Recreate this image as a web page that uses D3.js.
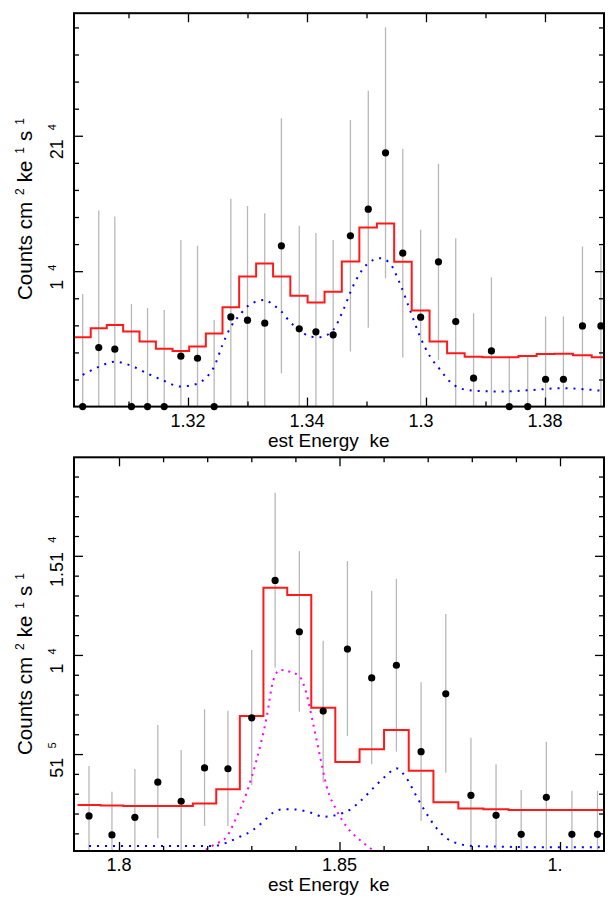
<!DOCTYPE html>
<html><head><meta charset="utf-8">
<script src="https://cdn.jsdelivr.net/npm/d3@7/dist/d3.min.js"></script>
<style>
body{margin:0;background:#fff}
svg{display:block;font-family:"Liberation Sans",Arial,Helvetica,sans-serif}
</style>
</head><body>
<svg id="c" width="613" height="897"></svg>
<script>
// ---------------- DATA (flux values in units of 1e-4 counts cm^-2 keV^-1 s^-1) ----------------
// Top panel
const topEnergy = [1.3023,1.3050,1.3077,1.3105,1.3132,1.3160,1.3188,1.3216,1.3244,1.3272,1.3300,1.3329,1.3357,1.3387,1.3415,1.3444,1.3473,1.3503,1.3532,1.3561,1.3591,1.3621,1.3650,1.3680,1.3710,1.3740,1.3771,1.3801,1.3831,1.3863,1.3894];
const topFlux   = [0,0.436,0.424,0,0,0,0.372,0.357,0,0.662,0.638,0.616,1.187,0.574,0.552,0.530,1.261,1.458,1.874,1.133,0.660,1.069,0.628,0.210,0.411,0,0,0.202,0.202,0.596,0.596];
const topErrLo  = [0,0,0,0,0,0,0,0,0,0,0,0,0.247,0,0,0,0.406,0.583,0.948,0.362,0,0.345,0,0,0,0,0,0,0,0,0];
const topErrHi  = [0.832,1.448,1.403,0.758,0.729,0.714,1.231,1.187,0.640,1.534,1.482,1.428,2.130,1.335,1.281,1.231,2.117,2.332,2.802,1.903,1.305,1.793,1.244,0.690,0.956,0.374,0.374,0.665,0.665,1.182,1.182];
const topModel  = [0.513,0.579,0.603,0.554,0.480,0.428,0.411,0.443,0.539,0.734,0.960,1.056,0.960,0.818,0.768,0.849,1.071,1.322,1.352,1.069,0.709,0.480,0.394,0.369,0.365,0.365,0.374,0.389,0.391,0.380,0.365];
const topCompE  = [1.3023,1.3050,1.3077,1.3105,1.3133,1.3160,1.3187,1.3215,1.3230,1.3244,1.3258,1.3271,1.3287,1.3301,1.3314,1.3329,1.3343,1.3357,1.3371,1.3388,1.3405,1.3422,1.3444,1.3461,1.3477,1.3500,1.3523,1.3539,1.3556,1.3573,1.3590,1.3607,1.3624,1.3640,1.3657,1.3679,1.3724,1.3780,1.3830,1.3864,1.3892];
const topCompV  = [0.234,0.293,0.332,0.301,0.242,0.190,0.148,0.168,0.212,0.295,0.456,0.581,0.677,0.744,0.775,0.788,0.751,0.702,0.628,0.566,0.517,0.513,0.566,0.714,0.886,1.047,1.096,1.059,0.911,0.714,0.517,0.369,0.271,0.185,0.136,0.118,0.111,0.123,0.136,0.129,0.118];
const topXMajor = [1.32,1.34,1.36,1.38];
const topXLabels = ["1.32","1.34","1.3","1.38"];
const topXMinor = [1.31,1.33,1.35,1.37];
const topYMajor = [1,2];
const topYLabelBase = ["1","21"];
const topYLabelSup  = ["4","4"];
const topYMinor = [0.2,0.4,0.6,0.8,1.2,1.4,1.6,1.8,2.2,2.4,2.6,2.8];

// Bottom panel
const botEnergy = [1.7932,1.7984,1.8036,1.8088,1.8141,1.8194,1.8247,1.8301,1.8354,1.8409,1.8463,1.8518,1.8573,1.8629,1.8685,1.8741,1.8798,1.8855,1.8912,1.8969,1.9027,1.9085];
const botFlux   = [0.188,0.092,0.181,0.358,0.262,0.430,0.426,0.683,1.376,1.117,0.717,1.030,0.884,0.948,0.512,0.804,0.292,0.191,0.095,0.282,0.095,0.095];
const botErrLo  = [0,0,0,0.075,0,0.137,0.137,0.344,0.937,0.714,0.356,0.591,0.448,0.512,0.164,0.406,0,0,0,0,0,0];
const botErrHi  = [0.440,0.310,0.425,0.647,0.520,0.726,0.719,1.025,1.818,1.524,1.072,1.474,1.324,1.384,0.862,1.206,0.582,0.448,0.319,0.562,0.315,0.315];
const botModel  = [0.243,0.240,0.238,0.238,0.238,0.250,0.322,0.692,1.339,1.302,0.734,0.460,0.524,0.621,0.416,0.257,0.226,0.221,0.218,0.218,0.218,0.218];
const botCompE  = [1.7932,1.8070,1.8213,1.8244,1.8274,1.8304,1.8327,1.8349,1.8372,1.8395,1.8418,1.8440,1.8463,1.8493,1.8523,1.8546,1.8576,1.8607,1.8629,1.8652,1.8675,1.8697,1.8720,1.8743,1.8773,1.8803,1.8864,1.8939,1.9015,1.9090];
const botCompV  = [0.036,0.036,0.036,0.053,0.083,0.117,0.159,0.204,0.221,0.221,0.214,0.201,0.184,0.193,0.218,0.260,0.327,0.394,0.428,0.378,0.285,0.201,0.126,0.075,0.046,0.036,0.033,0.030,0.030,0.030];
const botLineE  = [1.8170,1.8214,1.8244,1.8267,1.8289,1.8312,1.8335,1.8350,1.8365,1.8388,1.8410,1.8425,1.8440,1.8456,1.8471,1.8493,1.8516,1.8546,1.8576,1.8603];
const botLineV  = [-0.020,0.041,0.083,0.184,0.302,0.470,0.688,0.873,0.924,0.915,0.890,0.806,0.655,0.487,0.335,0.218,0.134,0.067,0.016,-0.014];
const botXMajor = [1.80,1.85,1.90];
const botXLabels = ["1.8","1.85","1."];
const botXMinor = [1.81,1.82,1.83,1.84,1.86,1.87,1.88,1.89];
const botYMajor = [0.5,1.0,1.5];
const botYLabelBase = ["51","1","1.51"];
const botYLabelSup  = ["5","4","4"];
const botYMinor = [0.1,0.2,0.3,0.4,0.6,0.7,0.8,0.9,1.1,1.2,1.3,1.4,1.6,1.7,1.8,1.9];

const xTitle = "est Energy  ke";

// ---------------- DRAWING ----------------
const svg = d3.select("#c");
const FS = 18;

function drawPanel(p) {
  const x = d3.scaleLinear().domain(p.xDomain).range([p.left, p.right]);
  const y = d3.scaleLinear().domain(p.yDomain).range([p.bottom, p.top]);
  const g = svg.append("g");
  svg.append("clipPath").attr("id", p.id).append("rect")
    .attr("x", p.left).attr("y", p.top).attr("width", p.right - p.left).attr("height", p.bottom - p.top);
  const plot = g.append("g").attr("clip-path", `url(#${p.id})`);

  // points (under the error bars)
  g.append("g").selectAll("circle").data(p.energy).join("circle")
    .attr("cx", d => x(d)).attr("cy", (d, i) => y(p.flux[i])).attr("r", 3.6).attr("fill", "#000");
  // error bars
  plot.append("g").selectAll("line").data(p.energy).join("line")
    .attr("x1", d => x(d)).attr("x2", d => x(d))
    .attr("y1", (d, i) => y(p.lo[i])).attr("y2", (d, i) => y(p.hi[i]))
    .attr("stroke", "#b8b8b8").attr("stroke-width", 1.3);

  // component curves
  (p.comps || []).forEach(c => {
    const pts = c.e.map((e, i) => [e, c.v[i]]);
    plot.append("path").datum(pts)
      .attr("d", d3.line().x(d => x(d[0])).y(d => y(d[1])).curve(d3.curveMonotoneX))
      .attr("fill", "none").attr("stroke", c.color).attr("stroke-width", 2)
      .attr("stroke-dasharray", c.dash);
  });

  // model step histogram (bin edges at midpoints between channels)
  const e = p.energy, n = e.length;
  const edges = [e[0] - (e[1] - e[0]) / 2];
  for (let i = 0; i < n - 1; i++) edges.push((e[i] + e[i + 1]) / 2);
  edges.push(e[n - 1] + (e[n - 1] - e[n - 2]) / 2);
  const stepPts = [];
  p.model.forEach((m, i) => { stepPts.push([edges[i], m]); stepPts.push([edges[i + 1], m]); });
  plot.append("path").datum(stepPts)
    .attr("d", d3.line().x(d => x(d[0])).y(d => y(d[1])))
    .attr("fill", "none").attr("stroke", "#ff1a1a").attr("stroke-width", 2);

  // axes ticks (inward)
  const tickStyle = s => { s.select(".domain").remove(); s.selectAll("line").attr("stroke-width", 1.3); s.selectAll("text").remove(); };
  [[p.xMinor, 5], [p.xMajor, 9]].forEach(([vals, len]) => {
    g.append("g").attr("transform", `translate(0,${p.bottom})`).call(d3.axisBottom(x).tickValues(vals).tickSize(-len)).call(tickStyle);
    g.append("g").attr("transform", `translate(0,${p.top})`).call(d3.axisTop(x).tickValues(vals).tickSize(-len)).call(tickStyle);
  });
  [[p.yMinor, 5], [p.yMajor, 9]].forEach(([vals, len]) => {
    g.append("g").attr("transform", `translate(${p.left},0)`).call(d3.axisLeft(y).tickValues(vals).tickSize(-len)).call(tickStyle);
    g.append("g").attr("transform", `translate(${p.right},0)`).call(d3.axisRight(y).tickValues(vals).tickSize(-len)).call(tickStyle);
  });

  // frame
  g.append("rect").attr("x", p.left).attr("y", p.top).attr("width", p.right - p.left).attr("height", p.bottom - p.top)
    .attr("fill", "none").attr("stroke", "#000").attr("stroke-width", 2);

  // x tick labels
  g.append("g").selectAll("text").data(p.xMajor).join("text")
    .attr("x", (d, i) => x(d) + p.xLabelShift[i] * FS).attr("y", p.bottom + 20)
    .attr("font-size", FS).attr("text-anchor", "start").text((d, i) => p.xLabels[i]);
  // x title
  g.append("text").attr("x", 268).attr("y", p.bottom + 40).attr("font-size", 19)
    .attr("xml:space", "preserve").style("white-space", "pre").text(xTitle);

  // y tick labels
  p.yMajor.forEach((v, i) => {
    const t = g.append("text").attr("transform", `translate(63,${y(v) + p.yLabelShift}) rotate(-90)`)
      .attr("font-size", FS).attr("text-anchor", "middle");
    t.append("tspan").text(p.yBase[i]);
    t.append("tspan").attr("dx", 9).attr("dy", -7).attr("font-size", 11).text(p.ySup[i]);
  });

  // y title
  const yt = g.append("text").attr("transform", `translate(32,${p.yTitleY}) rotate(-90)`)
    .attr("font-size", 20.5).attr("text-anchor", "middle");
  yt.append("tspan").text("Counts cm");
  yt.append("tspan").attr("dx", 7).attr("dy", -8).attr("font-size", 12).text("2");
  yt.append("tspan").attr("dx", 6).attr("dy", 8).text("ke");
  yt.append("tspan").attr("dx", 7).attr("dy", -8).attr("font-size", 12).text("1");
  yt.append("tspan").attr("dx", 6).attr("dy", 8).text("s");
  yt.append("tspan").attr("dx", 6).attr("dy", -8).attr("font-size", 12).text("1");
}

drawPanel({
  id: "clipTop", left: 74, right: 604, top: 13.2, bottom: 406.6,
  xDomain: [1.30084, 1.38992], yDomain: [0, 2.905],
  energy: topEnergy, flux: topFlux, lo: topErrLo, hi: topErrHi, model: topModel,
  comps: [{ e: topCompE, v: topCompV, color: "#0000ff", dash: "2,6" }],
  xMajor: topXMajor, xMinor: topXMinor, xLabels: topXLabels, xLabelShift: [-0.973, -0.973, -0.973, -0.973],
  yMajor: topYMajor, yMinor: topYMinor, yBase: topYLabelBase, ySup: topYLabelSup, yLabelShift: 6,
  yTitleY: 209
});

drawPanel({
  id: "clipBot", left: 74, right: 604, top: 457.3, bottom: 851,
  xDomain: [1.789796, 1.909977], yDomain: [0.011, 1.997],
  energy: botEnergy, flux: botFlux, lo: botErrLo, hi: botErrHi, model: botModel,
  comps: [{ e: botCompE, v: botCompV, color: "#0000ff", dash: "2,6" },
          { e: botLineE, v: botLineV, color: "#ff00ff", dash: "2,5" }],
  xMajor: botXMajor, xMinor: botXMinor, xLabels: botXLabels, xLabelShift: [-0.695, -0.973, -0.695],
  yMajor: botYMajor, yMinor: botYMinor, yBase: botYLabelBase, ySup: botYLabelSup, yLabelShift: 6,
  yTitleY: 664
});
</script>
</body></html>
